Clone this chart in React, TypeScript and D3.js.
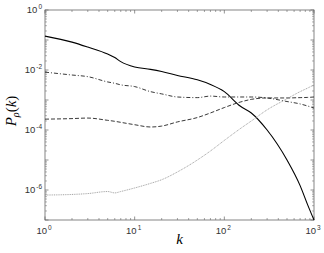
import React from 'react';
import * as d3 from 'd3';

// k grid shared by the four curves
const kValues = [1, 2, 3, 5, 6, 7, 10, 15, 20, 30, 50, 70, 100, 150, 200, 300, 500, 700, 850, 1000];

const solid = [0.135, 0.085, 0.058, 0.034, 0.026, 0.019, 0.0126, 0.0105, 0.0089, 0.0066, 0.0047, 0.0033, 0.0019, 6.3e-4, 3.7e-4, 1e-4, 1e-5, 1.4e-6, 3.2e-7, 1e-7];
const dashDot = [8.5e-3, 6.8e-3, 6e-3, 4e-3, 3.6e-3, 3.2e-3, 2.8e-3, 1.9e-3, 1.6e-3, 1.26e-3, 1.2e-3, 1.35e-3, 1.26e-3, 1.26e-3, 1.26e-3, 1.17e-3, 8.9e-4, 7.4e-4, 6.3e-4, 5.4e-4];
const dashed = [2.3e-4, 2.4e-4, 2.5e-4, 2.1e-4, 1.95e-4, 1.8e-4, 1.5e-4, 1.26e-4, 1.35e-4, 1.86e-4, 2.6e-4, 3.7e-4, 5.6e-4, 8.5e-4, 1.05e-3, 1.17e-3, 1.17e-3, 1.2e-3, 1.22e-3, 1.26e-3];
const dotted = [6.8e-7, 7.1e-7, 7.6e-7, 8.9e-7, 8e-7, 8.9e-7, 1.17e-6, 1.66e-6, 2.2e-6, 4e-6, 1e-5, 2e-5, 4.5e-5, 1.1e-4, 2e-4, 4.7e-4, 1.1e-3, 1.9e-3, 2.5e-3, 3.2e-3];

const xTickExps = [0, 1, 2, 3];
const yTickExps = [0, -2, -4, -6];

const series = [
    { values: solid, stroke: '#000', dash: '', width: 1.1 },
    { values: dashDot, stroke: '#222', dash: '4,2,1,2', width: 0.9 },
    { values: dashed, stroke: '#222', dash: '4,2', width: 0.9 },
    { values: dotted, stroke: '#999', dash: '1,0.8', width: 0.9 },
];

export default function App() {
    const width = 324;
    const height = 253;
    const margin = { top: 10, right: 10, bottom: 33, left: 45 };
    const x0 = margin.left, x1 = width - margin.right;
    const y0 = margin.top, y1 = height - margin.bottom;

    const x = d3.scaleLog().domain([1, 1000]).range([x0, x1]);
    const y = d3.scaleLog().domain([1e-7, 1]).range([y1, y0]);

    const line = d3.line<number>()
        .x((_, i) => x(kValues[i]))
        .y(d => y(d))
        .curve(d3.curveMonotoneX);

    // minor ticks for each decade
    const xMinor: number[] = [];
    for (let e = 0; e < 3; e++) for (let m = 2; m <= 9; m++) xMinor.push(m * Math.pow(10, e));
    const yMinor: number[] = [];
    for (let e = -7; e < 0; e++) for (let m = 2; m <= 9; m++) yMinor.push(m * Math.pow(10, e));
    const xMajor = [1, 10, 100, 1000];
    const yMajor = d3.range(-7, 1).map(e => Math.pow(10, e));

    const tickColor = '#666';
    const labelFont = 'Liberation Sans, Arial, sans-serif';

    return (
        <svg width={width} height={height} style={{ position: 'absolute', left: 0, top: 0, background: '#fff' }}>
            <rect x={x0} y={y0} width={x1 - x0} height={y1 - y0} fill="none" stroke={tickColor} strokeWidth={0.8} />
            {xMajor.map(v => (
                <g key={'xM' + v}>
                    <line x1={x(v)} x2={x(v)} y1={y1} y2={y1 - 3.5} stroke={tickColor} strokeWidth={0.7} />
                    <line x1={x(v)} x2={x(v)} y1={y0} y2={y0 + 3.5} stroke={tickColor} strokeWidth={0.7} />
                </g>
            ))}
            {xMinor.map(v => (
                <g key={'xm' + v}>
                    <line x1={x(v)} x2={x(v)} y1={y1} y2={y1 - 2} stroke={tickColor} strokeWidth={0.6} />
                    <line x1={x(v)} x2={x(v)} y1={y0} y2={y0 + 2} stroke={tickColor} strokeWidth={0.6} />
                </g>
            ))}
            {yMajor.map(v => (
                <g key={'yM' + v}>
                    <line x1={x0} x2={x0 + 3.5} y1={y(v)} y2={y(v)} stroke={tickColor} strokeWidth={0.7} />
                    <line x1={x1} x2={x1 - 3.5} y1={y(v)} y2={y(v)} stroke={tickColor} strokeWidth={0.7} />
                </g>
            ))}
            {yMinor.map(v => (
                <g key={'ym' + v}>
                    <line x1={x0} x2={x0 + 2} y1={y(v)} y2={y(v)} stroke={tickColor} strokeWidth={0.5} />
                    <line x1={x1} x2={x1 - 2} y1={y(v)} y2={y(v)} stroke={tickColor} strokeWidth={0.5} />
                </g>
            ))}

            {series.map((s, i) => (
                <path key={i} d={line(s.values) || ''} fill="none" stroke={s.stroke}
                    strokeWidth={s.width} strokeDasharray={s.dash || undefined} />
            ))}

            {xTickExps.map(e => (
                <text key={'xl' + e} x={x(Math.pow(10, e)) - 1} y={y1 + 14} fontFamily={labelFont}
                    fontSize={9.5} fill="#333" textAnchor="middle">
                    10<tspan dy={-4} dx={1} fontSize={6.5}>{e}</tspan>
                </text>
            ))}
            {yTickExps.map(e => (
                <text key={'yl' + e} x={x0 - 3} y={y(Math.pow(10, e)) + 3} fontFamily={labelFont}
                    fontSize={9.5} fill="#333" textAnchor="end">
                    10<tspan dy={-4} dx={1} fontSize={6.5}>{e}</tspan>
                </text>
            ))}

            <text x={(x0 + x1) / 2} y={height - 9} fontFamily="Liberation Serif, Times New Roman, serif"
                fontStyle="italic" fontSize={15} textAnchor="middle">k</text>
            <text transform={`translate(16, ${(y0 + y1) / 2 - 4}) rotate(-90)`} fontFamily="Liberation Serif, Times New Roman, serif"
                fontSize={15} textAnchor="middle">
                <tspan fontStyle="italic">P</tspan>
                <tspan fontStyle="italic" fontSize={10} dy={3}>ρ</tspan>
                <tspan dy={-3}>(</tspan>
                <tspan fontStyle="italic">k</tspan>
                <tspan>)</tspan>
            </text>
        </svg>
    );
}
